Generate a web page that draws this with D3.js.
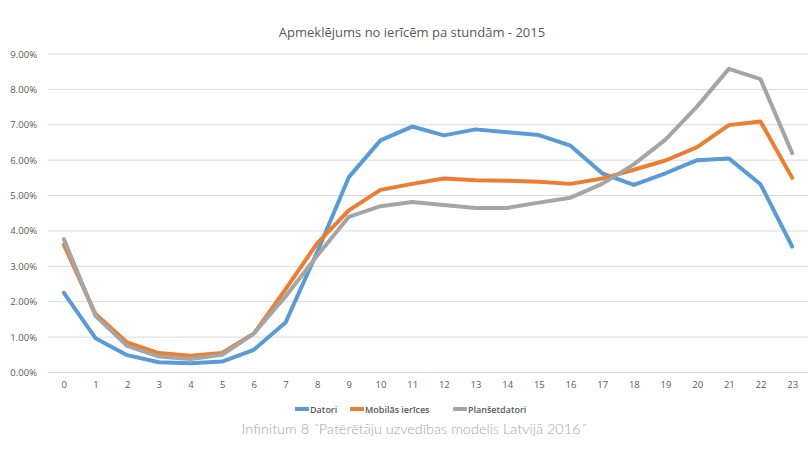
<!DOCTYPE html>
<html><head><meta charset="utf-8">
<script src="https://cdn.jsdelivr.net/npm/d3@7"></script>
<style>
body{margin:0;background:#fff;}
svg{display:block;}
</style></head>
<body>
<script>
const hours = ["0","1","2","3","4","5","6","7","8","9","10","11","12","13","14","15","16","17","18","19","20","21","22","23"];
const datori = [2.25,0.97,0.49,0.29,0.26,0.31,0.64,1.41,3.4,5.52,6.56,6.95,6.7,6.87,6.79,6.71,6.41,5.63,5.3,5.63,6.0,6.05,5.32,3.56];
const mobilas = [3.61,1.65,0.85,0.55,0.47,0.55,1.1,2.35,3.65,4.58,5.16,5.33,5.48,5.43,5.42,5.39,5.33,5.48,5.73,5.99,6.37,6.99,7.09,5.5];
const plansetdatori = [3.77,1.6,0.75,0.45,0.38,0.5,1.1,2.15,3.3,4.4,4.7,4.82,4.73,4.65,4.65,4.8,4.94,5.33,5.88,6.58,7.52,8.58,8.29,6.2];
const yTicks = [0,1,2,3,4,5,6,7,8,9];
const seriesNames = ["Datori","Mobilās ierīces","Planšetdatori"];
const colors = ["#5B9BD5","#ED7D31","#A5A5A5"];
const title = "Apmeklējums no ierīcēm pa stundām - 2015";
const footnote = "Infinitum 8 ˝Patērētāju uzvedības modelis Latvijā 2016˝";

(function(){
const W = 810, H = 450;
const svg = d3.select("body").append("svg").attr("width", W).attr("height", H);
const pLeft = 48, pRight = 808, pTop = 54, pBottom = 372.5;
const x = d3.scalePoint().domain(hours).range([pLeft, pRight]).padding(0.5);
const y = d3.scaleLinear().domain([0, 9]).range([pBottom, pTop]);
const font = "'Open Sans', 'DejaVu Sans', sans-serif";

svg.append("g").selectAll("line").data(yTicks).join("line")
  .attr("x1", pLeft).attr("x2", pRight)
  .attr("y1", d => y(d)).attr("y2", d => y(d))
  .attr("stroke", "#d9d9d9").attr("stroke-width", 1);

const yAxis = d3.axisLeft(y).tickValues(yTicks).tickFormat(d => d.toFixed(2) + "%").tickSize(0).tickPadding(0);
const gy = svg.append("g").attr("transform", `translate(37,0)`).call(yAxis);
gy.select(".domain").remove();
gy.selectAll("text").attr("fill", "#595959").style("font-family", font).style("font-size", "9.5px");

const xAxis = d3.axisBottom(x).tickSize(0).tickPadding(0);
const gx = svg.append("g").attr("transform", `translate(0,${pBottom + 9})`).call(xAxis);
gx.select(".domain").remove();
gx.selectAll("text").attr("fill", "#595959").style("font-family", font).style("font-size", "9.5px");

const allSeries = [datori, mobilas, plansetdatori];
const line = d3.line().x((d, i) => x(hours[i])).y(d => y(d));
allSeries.forEach((s, k) => {
  svg.append("path").datum(s)
    .attr("d", line).attr("fill", "none")
    .attr("stroke", colors[k]).attr("stroke-width", 4)
    .attr("stroke-linejoin", "round").attr("stroke-linecap", "round");
});

svg.append("text").attr("x", 412).attr("y", 37).attr("text-anchor", "middle")
  .attr("fill", "#595959").style("font-family", font).style("font-size", "13px").text(title);

const legendX = [295, 350, 453];
const lg = svg.append("g");
seriesNames.forEach((n, k) => {
  lg.append("line").attr("x1", legendX[k]).attr("x2", legendX[k] + 14)
    .attr("y1", 409).attr("y2", 409).attr("stroke", colors[k]).attr("stroke-width", 4);
  lg.append("text").attr("x", legendX[k] + 15).attr("y", 412.5)
    .attr("fill", "#595959").style("font-family", font).style("font-size", "9px").style("font-weight", "600").text(n);
});

svg.append("text").attr("x", 414).attr("y", 434).attr("text-anchor", "middle")
  .attr("fill", "#a6a6a6").style("font-family", "Lato, 'Open Sans', sans-serif").style("font-weight", "300")
  .style("font-size", "14.5px").text(footnote);
})();
</script>
</body></html>
